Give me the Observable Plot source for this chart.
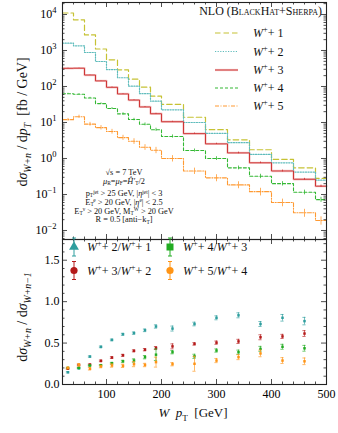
<!DOCTYPE html>
<html><head><meta charset="utf-8">
<script src="https://cdn.jsdelivr.net/npm/d3@7"></script>
<script src="https://cdn.jsdelivr.net/npm/@observablehq/plot@0.6"></script>
<style>
body{margin:0;background:#fff;}
#wrap{position:relative;width:338px;height:433px;font-family:"Liberation Serif","Times New Roman",serif;}
#wrap svg{position:absolute;left:0;}
</style></head><body><div id="wrap"></div>
<script>
// ---- data ----
const binEdges = [20,40,60,80,100,120,140,160,180,200,240,280,320,360,400,440,480,500];
const w1 = [11000,7100,2700,1100,550,290,160,96,54,32,14,6.3,3.3,1.75,0.95,0.55,0.28];
const w2 = [1600,1350,880,495,295,175,102,63,39,22.5,10,5.0,2.75,1.3,0.76,0.42,0.25];
const w3 = [320,322,208,143,95,62,42,27,17.5,10.5,4.9,2.55,1.43,0.76,0.45,0.265,0.17];
const w4 = [63,61,48,33.5,24.5,17.4,12.1,8.9,6.3,4.1,1.67,1.0,0.55,0.32,0.2,0.115,0.072];
const w5 = [12,14.5,9.0,7.2,5.6,3.8,3.0,2.05,1.7,1.0,0.45,0.29,0.185,0.12,0.06,0.031,0.019];
const relErr3 = [0.01,0.01,0.01,0.01,0.02,0.02,0.02,0.03,0.03,0.03,0.04,0.04,0.05,0.05,0.06,0.06,0.07];
const relErr4 = [0.03,0.03,0.04,0.05,0.06,0.07,0.08,0.09,0.1,0.1,0.1,0.12,0.12,0.14,0.14,0.15,0.16];
const relErr5 = [0.08,0.1,0.12,0.14,0.15,0.16,0.18,0.18,0.2,0.2,0.2,0.22,0.22,0.24,0.24,0.25,0.26];
const seriesNames = ["W+ 1","W+ 2","W+ 3","W+ 4","W+ 5"];

const ratioX = [30,50,70,90,110,130,150,170,190,220,260,300,340,380,420,460];
const r21 = [0.148,0.196,0.337,0.454,0.538,0.606,0.62,0.654,0.70,0.675,0.73,0.805,0.835,0.73,0.805,0.765];
const e21 = [0.008,0.008,0.008,0.01,0.01,0.012,0.014,0.016,0.02,0.03,0.022,0.024,0.03,0.03,0.04,0.045];
const r32 = [0.19,0.235,0.24,0.285,0.325,0.352,0.406,0.42,0.44,0.46,0.49,0.505,0.52,0.57,0.58,0.615];
const e32 = [0.006,0.008,0.008,0.01,0.01,0.012,0.012,0.014,0.018,0.03,0.015,0.02,0.025,0.03,0.025,0.035];
const r43 = [0.2,0.2,0.229,0.233,0.257,0.28,0.289,0.33,0.36,0.39,0.34,0.41,0.39,0.43,0.455,0.437];
const e43 = [0.006,0.006,0.008,0.008,0.01,0.012,0.02,0.02,0.07,0.02,0.025,0.02,0.025,0.03,0.03,0.035];
const r54 = [0.2,0.237,0.19,0.217,0.229,0.225,0.245,0.235,0.27,0.245,0.25,0.289,0.33,0.375,0.289,0.28];
const e54 = [0.01,0.015,0.015,0.015,0.02,0.02,0.03,0.02,0.06,0.02,0.09,0.025,0.03,0.04,0.035,0.04];

const xMajor = [100,200,300,400,500];
const yRatioMajor = [0,0.5,1.0,1.5];
const yLogMajor = [1e-2,1e-1,1,10,100,1e3,1e4];

// ---- styles ----
const C = {
  y:"#c6c234", t:"#5fbcbc", r:"#cc2e2e", rHalo:"#f4caca", g:"#34b834", o:"#ff9a33",
  rt:"#2e9e9e", rr:"#b51a1a", rg:"#22ac22", ro:"#ff9415"
};
const histStyles = [
  {stroke:C.y, dash:"5.5,3", w:1.2},
  {stroke:C.t, dash:"1.2,1.4", w:1.2},
  {stroke:C.r, dash:null, w:0.95},
  {stroke:C.g, dash:"3,2", w:1.1},
  {stroke:C.o, dash:"4,1.5,1,1.5", w:1.1}
];
const W = 338, ML = 62, MR = 12;
const FW = W - ML - MR;
const H1 = 240, MT1 = 2, MB1 = 1, FH1 = H1 - MT1 - MB1;
const H2 = 194, MT2 = 0, MB2 = 49, FH2 = H2 - MT2 - MB2;
const xDomain = [20,500];

function steps(vals){
  const pts = vals.map((v,i)=>({x:binEdges[i], y:v}));
  pts.push({x:binEdges[binEdges.length-1], y:vals[vals.length-1]});
  return pts;
}
function centers(vals, rel){
  return vals.map((v,i)=>({x:(binEdges[i]+binEdges[i+1])/2, y:v, lo:v*(1-rel[i]), hi:v*(1+rel[i])})).filter(d=>d.x<500);
}
const allSeries = [w1,w2,w3,w4,w5];

// tick arrays
const xMinor = d3.range(20,501,20).filter(v=>!xMajor.includes(v));
const logLo = Math.pow(10,-2.25), logHi = Math.pow(10,4.333);
const yLogMinor = [];
for (let e=-3;e<=4;e++) for (let m=2;m<=9;m++){const v=m*Math.pow(10,e); if(v>logLo&&v<logHi) yLogMinor.push(v);}
const yRatioMinor = d3.range(0,1.75,0.1).map(v=>+v.toFixed(2)).filter(v=>!yRatioMajor.some(m=>Math.abs(m-v)<1e-6));

function frameTicks(fw, fh, xmaj, xmin, ymaj, ymin){
  const s = {stroke:"#222", strokeWidth:0.8};
  return [
    Plot.ruleX(xmaj, {x:d=>d, insetTop:fh-5, ...s}),
    Plot.ruleX(xmaj, {x:d=>d, insetBottom:fh-5, ...s}),
    Plot.ruleX(xmin, {x:d=>d, insetTop:fh-2.5, ...s}),
    Plot.ruleX(xmin, {x:d=>d, insetBottom:fh-2.5, ...s}),
    Plot.ruleY(ymaj, {y:d=>d, insetRight:fw-5, ...s}),
    Plot.ruleY(ymaj, {y:d=>d, insetLeft:fw-5, ...s}),
    Plot.ruleY(ymin, {y:d=>d, insetRight:fw-2.5, ...s}),
    Plot.ruleY(ymin, {y:d=>d, insetLeft:fw-2.5, ...s})
  ];
}

// ---- main panel ----
const histMarks = [];
histMarks.push(Plot.line(steps(w3), {x:"x", y:"y", curve:"step-after", stroke:C.rHalo, strokeWidth:2.3}));
allSeries.forEach((vals,i)=>{
  const st = histStyles[i];
  histMarks.push(Plot.line(steps(vals), {x:"x", y:"y", curve:"step-after", stroke:st.stroke, strokeWidth:st.w, strokeDasharray:st.dash}));
});
const errMarks = [
  Plot.ruleX(centers(w3, relErr3), {x:"x", y1:"lo", y2:"hi", stroke:C.r, strokeWidth:0.8}),
  Plot.ruleX(centers(w4, relErr4), {x:"x", y1:"lo", y2:"hi", stroke:C.g, strokeWidth:0.8}),
  Plot.ruleX(centers(w5, relErr5), {x:"x", y1:"lo", y2:"hi", stroke:C.o, strokeWidth:0.8})
];

const p1 = Plot.plot({
  width:W, height:H1, marginTop:MT1, marginBottom:MB1, marginLeft:ML, marginRight:MR,
  style:{background:"transparent", overflow:"visible", fontFamily:"Liberation Serif, serif"},
  x:{domain:xDomain, axis:null},
  y:{type:"log", domain:[logLo, logHi]},
  marks:[
    ...histMarks,
    ...errMarks,
    ...frameTicks(FW, FH1, xMajor, xMinor, yLogMajor, yLogMinor),
    Plot.axisY(yLogMajor, {tickSize:0, tickPadding:6, fontSize:12, label:null,
      tickFormat:d=>"10^"+Math.round(Math.log10(d))}),
    Plot.frame({stroke:"#222", strokeWidth:1.1})
  ]
});
p1.style.top = "0px";

// ---- ratio panel ----
const ratioSets = [
  {r:r21, e:e21, c:C.rt},
  {r:r32, e:e32, c:C.rr},
  {r:r43, e:e43, c:C.rg},
  {r:r54, e:e54, c:C.ro}
];
const ratioMarks = [];
ratioSets.forEach(s=>{
  const data = ratioX.map((x,i)=>({x, y:s.r[i], lo:s.r[i]-s.e[i], hi:s.r[i]+s.e[i]}));
  ratioMarks.push(
    Plot.ruleX(data, {x:"x", y1:"lo", y2:"hi", stroke:s.c, strokeOpacity:0.65, strokeWidth:1}),
    Plot.ruleY(data, {y:"lo", x1:"x", x2:"x", insetLeft:-1.6, insetRight:-1.6, stroke:s.c, strokeOpacity:0.65, strokeWidth:1}),
    Plot.ruleY(data, {y:"hi", x1:"x", x2:"x", insetLeft:-1.6, insetRight:-1.6, stroke:s.c, strokeOpacity:0.65, strokeWidth:1}),
    Plot.dot(data, {x:"x", y:"y", symbol:"square", r:1.4, fill:s.c, stroke:null})
  );
});

const p2 = Plot.plot({
  width:W, height:H2, marginTop:MT2, marginBottom:MB2, marginLeft:ML, marginRight:MR,
  style:{background:"transparent", overflow:"visible", fontFamily:"Liberation Serif, serif"},
  x:{domain:xDomain},
  y:{domain:[0,1.75]},
  marks:[
    ...ratioMarks,
    ...frameTicks(FW, FH2, xMajor, xMinor, yRatioMajor, yRatioMinor),
    Plot.axisX(xMajor, {tickSize:0, tickPadding:5, fontSize:12, label:null}),
    Plot.axisY(yRatioMajor, {tickSize:0, tickPadding:3, fontSize:12, label:null, tickFormat:d3.format(".1f")}),
    Plot.frame({stroke:"#222", strokeWidth:1.1})
  ]
});
p2.style.top = "239px";

const wrap = document.getElementById("wrap");
wrap.appendChild(p1);
wrap.appendChild(p2);

// ---- rich text helper ----
function rich(parent, x, y, parts, o={}){
  const fs = o.size||12;
  const t = parent.append("text").attr("x",x).attr("y",y)
    .attr("text-anchor", o.anchor||"start")
    .attr("font-family","Liberation Serif, Times New Roman, serif")
    .attr("font-size", fs).attr("fill","#111");
  if (o.transform) t.attr("transform", o.transform);
  let shift = 0;
  const subK = o.subK ?? 0.3, supK = o.supK ?? 0.4, sk = o.sk ?? 0.7;
  for (const p of parts){
    const target = p.sub ? fs*subK : p.sup ? -fs*supK : 0;
    const ts = t.append("tspan").text(p.t).attr("dy", target-shift);
    shift = target;
    if (p.i) ts.attr("font-style","italic");
    if (p.sub||p.sup) ts.attr("font-size", fs*sk);
    if (p.sc) ts.attr("font-variant","small-caps");
  }
  return t;
}

// superscript exponents on log tick labels
d3.select(p1).selectAll('g[aria-label="y-axis tick label"] text').each(function(){
  const s = this.textContent;
  if (!s.startsWith("10^")) return;
  const e = s.slice(3).replace("-","\u2212");
  this.textContent = "";
  const t = d3.select(this);
  t.append("tspan").text("10");
  t.append("tspan").text(e).attr("dy",-5).attr("font-size",8.5);
});

const s1 = d3.select(p1);
// title
rich(s1, 322, 15, [{t:"NLO (BlackHat+Sherpa)", sc:1}], {anchor:"end", size:12});
// legend
const legY = [33,51.5,70,88,106];
histStyles.forEach((st,i)=>{
  if (i===2) s1.append("line").attr("x1",215).attr("x2",238).attr("y1",legY[i]).attr("y2",legY[i]).attr("stroke",C.rHalo).attr("stroke-width",2.3);
  s1.append("line").attr("x1",215).attr("x2",238).attr("y1",legY[i]).attr("y2",legY[i])
    .attr("stroke",st.stroke).attr("stroke-width",st.w).attr("stroke-dasharray",st.dash);
  const n = seriesNames[i].split(" ")[1];
  rich(s1, 253, legY[i]+4, [{t:"W",i:1},{t:"+",sup:1},{t:"+ "+n}], {size:12});
});
// cuts annotation
const ax = 124, as = 8.3, ao = {anchor:"middle", size:as, subK:0.16, supK:0.28, sk:0.65};
rich(s1, ax, 175, [{t:"\u221As = 7 TeV"}], ao);
rich(s1, ax, 184, [{t:"\u03BC",i:1},{t:"R",sub:1},{t:"="},{t:"\u03BC",i:1},{t:"F",sub:1},{t:"="},{t:"\u0124\u2032",i:1},{t:"T",sub:1},{t:"/2"}], ao);
rich(s1, ax, 196, [{t:"p"},{t:"T",sub:1},{t:"jet",sup:1},{t:" > 25 GeV, |"},{t:"\u03B7",i:1},{t:"jet",sup:1},{t:"| < 3"}], ao);
rich(s1, ax, 204.8, [{t:"E"},{t:"T",sub:1},{t:"e",sup:1},{t:" > 20 GeV, |"},{t:"\u03B7",i:1},{t:"e",sup:1},{t:"| < 2.5"}], ao);
rich(s1, ax, 213.6, [{t:"E"},{t:"T",sub:1},{t:"\u03BD",sup:1},{t:" > 20 GeV, M"},{t:"T",sub:1},{t:"W",sup:1},{t:" > 20 GeV"}], ao);
rich(s1, ax, 222.4, [{t:"R = 0.5 [anti\u2212k"},{t:"T",sub:1},{t:"]"}], ao);
// y label main
rich(s1, 0, 0, [{t:"d"},{t:"\u03C3",i:1},{t:"W+n",sub:1,i:1},{t:" / d"},{t:"p",i:1},{t:"T",sub:1,i:1},{t:"  [fb / GeV]"}],
  {anchor:"middle", size:14, transform:"translate(27,122) rotate(-90)"});

// ratio panel texts
const s2 = d3.select(p2);
rich(s2, 0, 0, [{t:"d"},{t:"\u03C3",i:1},{t:"W+n",sub:1,i:1},{t:" / d"},{t:"\u03C3",i:1},{t:"W+n\u22121",sub:1,i:1}],
  {anchor:"middle", size:14, transform:"translate(27,78) rotate(-90)"});
rich(s2, 193, 178, [{t:"W",i:1},{t:"  "},{t:"p",i:1},{t:"T",sub:1},{t:"  [GeV]"}], {anchor:"middle", size:13});
// ratio legend
const leg2 = [
  {x:74, y:8, c:C.rt, sym:"tri", a:"2", b:"1"},
  {x:74, y:31.5, c:C.rr, sym:"circ", a:"3", b:"2"},
  {x:170, y:8, c:C.rg, sym:"sq", a:"4", b:"3"},
  {x:170, y:31.5, c:C.ro, sym:"circ", a:"5", b:"4"}
];
leg2.forEach(L=>{
  s2.append("line").attr("x1",L.x).attr("x2",L.x).attr("y1",L.y-9).attr("y2",L.y+9).attr("stroke",L.c).attr("stroke-width",1);
  s2.append("line").attr("x1",L.x-2).attr("x2",L.x+2).attr("y1",L.y-9).attr("y2",L.y-9).attr("stroke",L.c);
  s2.append("line").attr("x1",L.x-2).attr("x2",L.x+2).attr("y1",L.y+9).attr("y2",L.y+9).attr("stroke",L.c);
  if (L.sym==="tri") s2.append("path").attr("d",d3.symbol(d3.symbolTriangle,42)()).attr("transform",`translate(${L.x},${L.y})`).attr("fill",L.c);
  else if (L.sym==="sq") s2.append("rect").attr("x",L.x-3.5).attr("y",L.y-3.5).attr("width",7).attr("height",7).attr("fill",L.c);
  else s2.append("circle").attr("cx",L.x).attr("cy",L.y).attr("r",3.6).attr("fill",L.c);
  rich(s2, L.x+13, L.y+4, [{t:"W",i:1},{t:"+",sup:1},{t:"+ "+L.a+"/"},{t:"W",i:1},{t:"+",sup:1},{t:"+ "+L.b}], {size:12});
});
</script></body></html>
